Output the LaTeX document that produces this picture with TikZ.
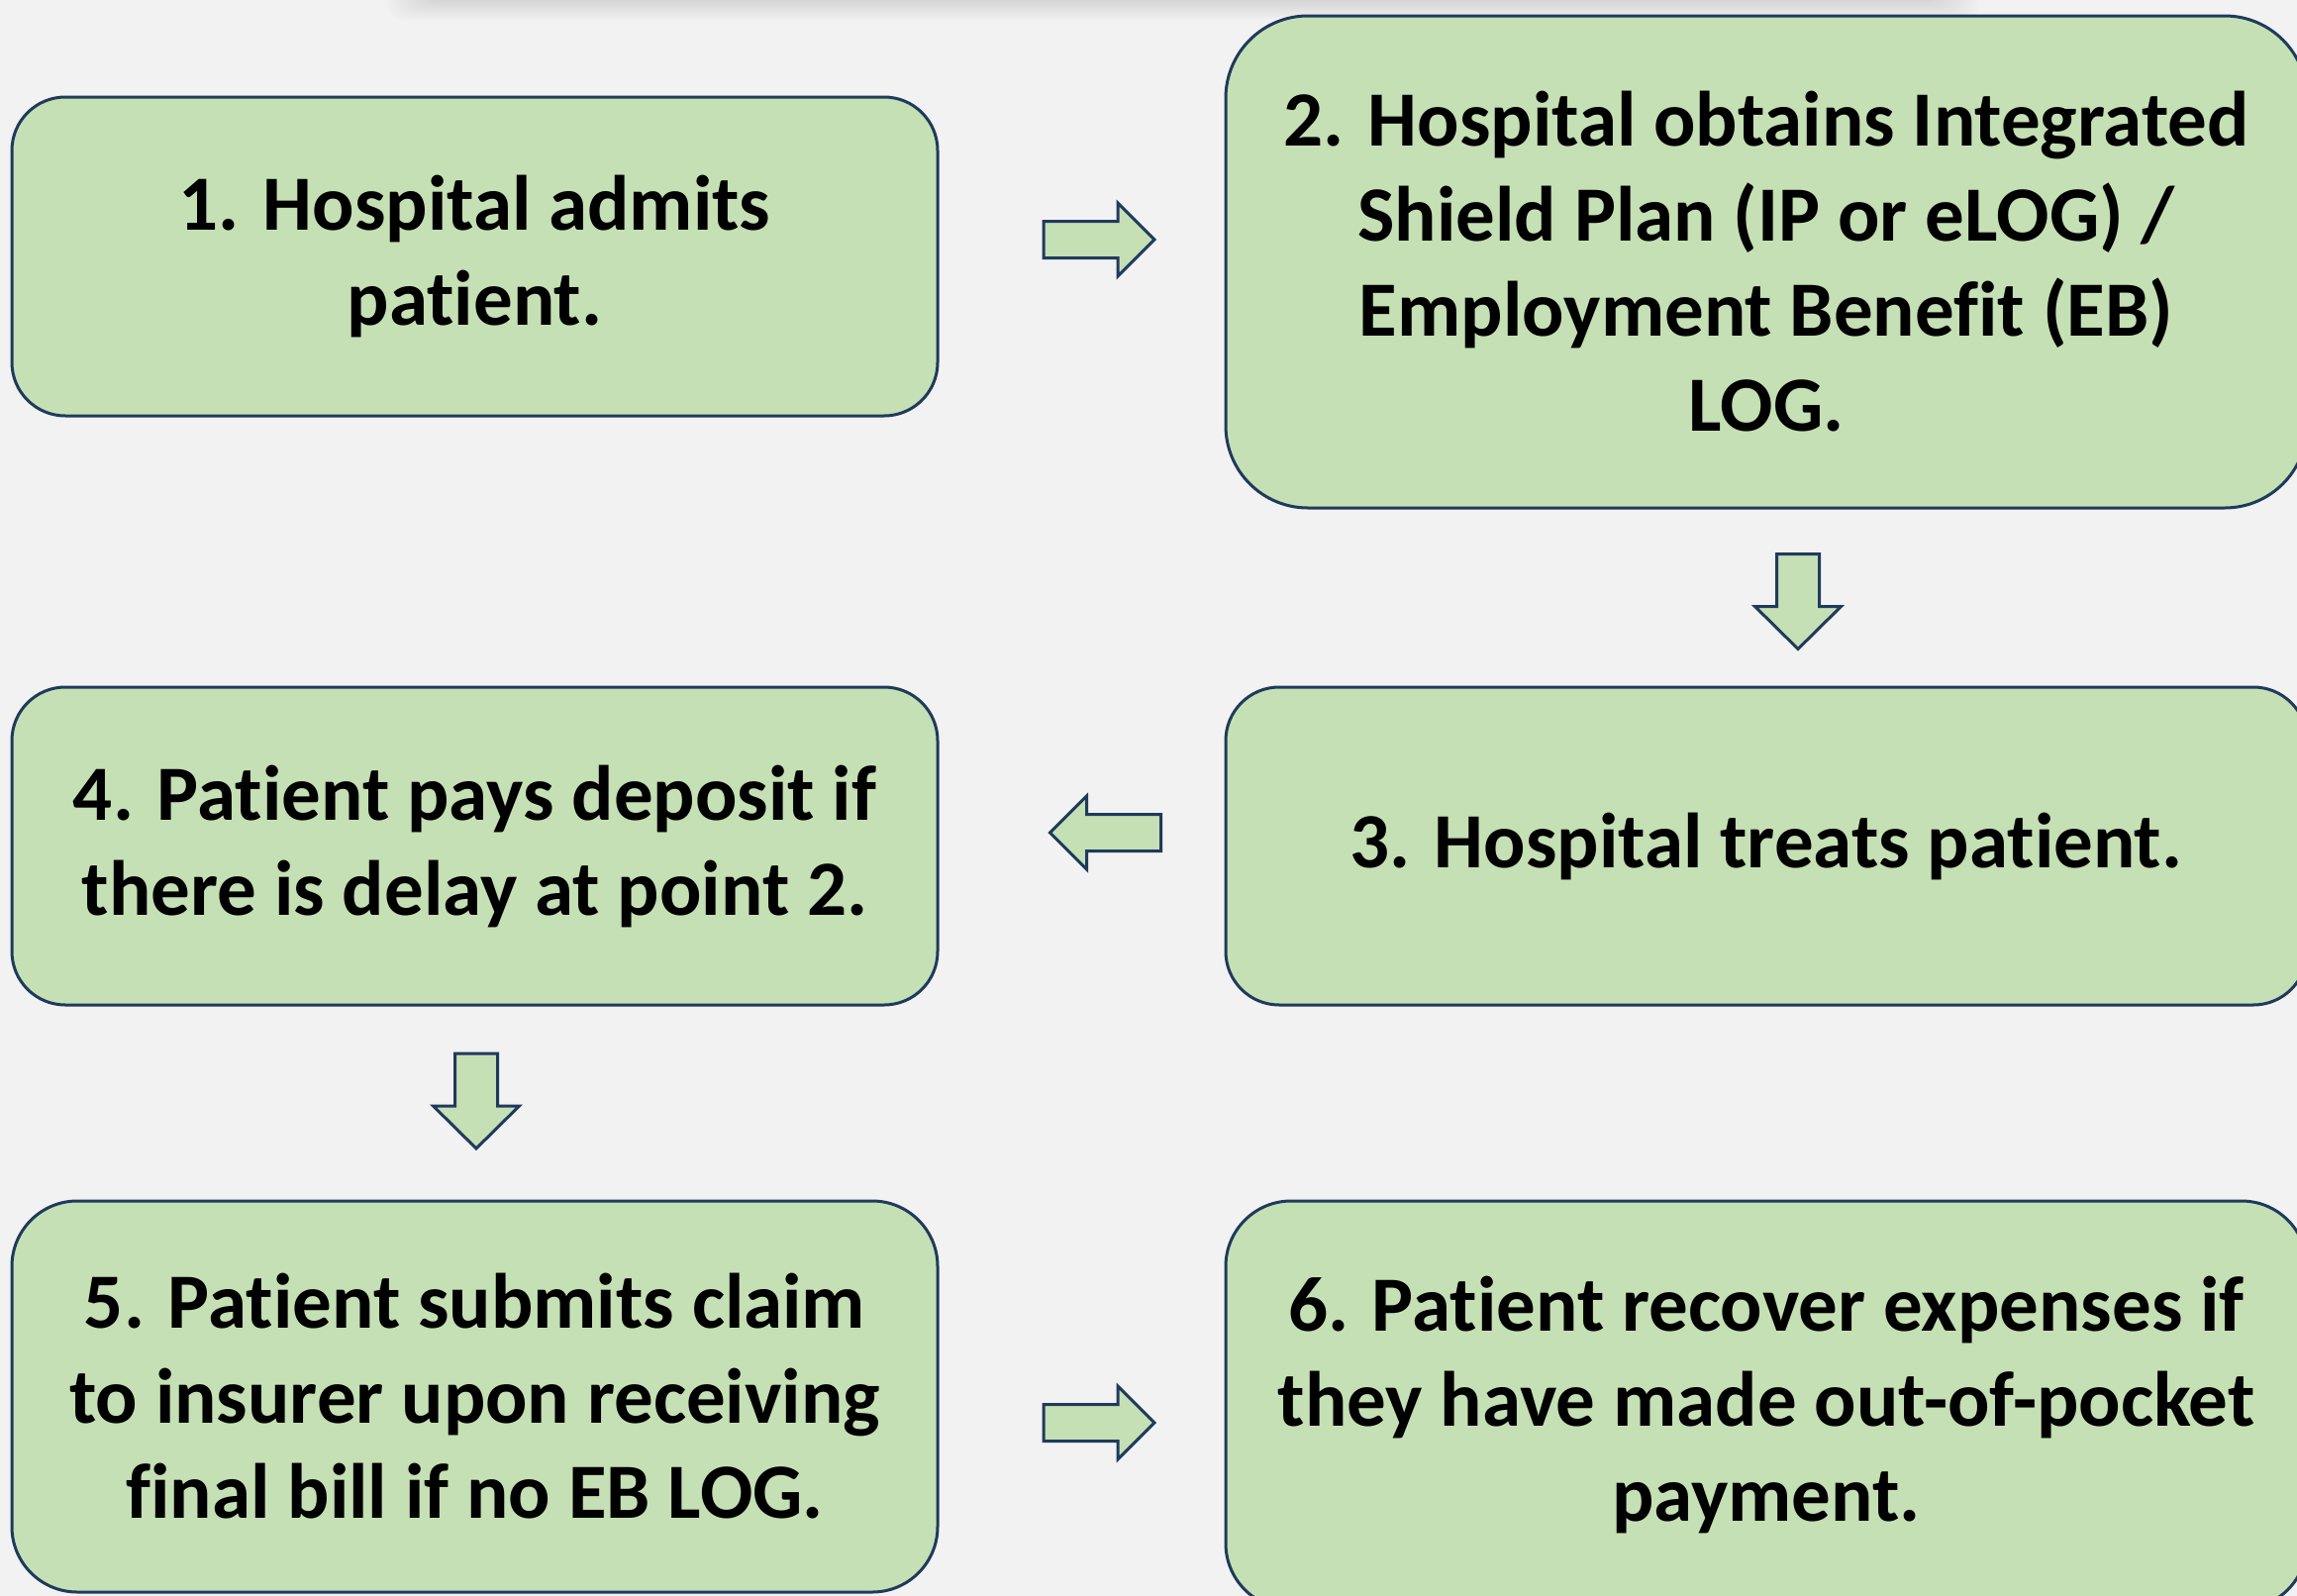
\documentclass[tikz,border=0pt]{standalone}
\usepackage{fontspec}
\setmainfont{Carlito}[Ligatures={NoCommon}]
\definecolor{pagebg}{HTML}{F2F2F2}
\definecolor{stepfill}{HTML}{C5E0B4}
\definecolor{stepline}{HTML}{203A5C}
\tikzset{
  stepbox/.style={draw=stepline, fill=stepfill, line width=1.5pt,
    inner sep=0pt, outer sep=0pt, align=center, text=black,
    font=\fontsize{39.5}{48}\selectfont\bfseries},
  arrowshape/.style={draw=stepline, fill=stepfill, line width=1.5pt, line join=miter},
  harrow/.pic={\draw[arrowshape] (-56,-18.5) -- (19,-18.5) -- (19,-37) -- (56,0)
      -- (19,37) -- (19,18.5) -- (-56,18.5) -- cycle;},
  varrow/.pic={\draw[arrowshape] (-48,-21.5) -- (5,-21.5) -- (5,-43.5) -- (48,0)
      -- (5,43.5) -- (5,21.5) -- (-48,21.5) -- cycle;}
}
\begin{document}
\begin{tikzpicture}[x=0.5pt, y=-0.5pt]
  % canvas, 1 unit = one pixel of the 2320 x 1612 sheet
  \fill[pagebg] (0,0) rectangle (2320,1612);
  \useasboundingbox (0,0) rectangle (2320,1612);
  \clip (0,0) rectangle (2320,1612);

  % soft shadow of the bar above the sheet
  \foreach \k in {0,...,13} {
    \fill[black, opacity=0.009, rounded corners=8] (390+\k*3,-20) rectangle (2000-\k*3,20-\k*1.4);
  }

  % process steps
  \node[stepbox, minimum width=467.5pt, minimum height=161pt, rounded corners=27pt]
    (s1) at (479.5,259) {1. Hospital admits\\patient.};
  \node[stepbox, minimum width=546pt, minimum height=248.5pt, rounded corners=41.5pt]
    (s2) at (1784,264.5) {2. Hospital obtains Integrated\\Shield Plan (IP or eLOG) /\\Employment Benefit (EB)\\LOG.};
  \node[stepbox, minimum width=546pt, minimum height=160.5pt, rounded corners=27pt]
    (s3) at (1784,854.5) {3. Hospital treats patient.};
  \node[stepbox, minimum width=467.5pt, minimum height=160.5pt, rounded corners=27pt]
    (s4) at (479.5,854.5) {4. Patient pays deposit if\\there is delay at point 2.};
  \node[stepbox, minimum width=467.5pt, minimum height=197.5pt, rounded corners=33pt]
    (s5) at (479.5,1410.5) {5. Patient submits claim\\to insurer upon receiving\\final bill if no EB LOG.};
  \node[stepbox, minimum width=546pt, minimum height=206pt, rounded corners=33pt]
    (s6) at (1784,1419) {6. Patient recover expenses if\\they have made out-of-pocket\\payment.};

  % block arrows between the steps
  \pic at (1110,242) {harrow};
  \pic[rotate=-90] at (1816,607.5) {varrow};
  \pic[rotate=180] at (1116.5,841) {harrow};
  \pic[rotate=-90] at (481,1112) {varrow};
  \pic at (1110,1437) {harrow};
\end{tikzpicture}
\end{document}
